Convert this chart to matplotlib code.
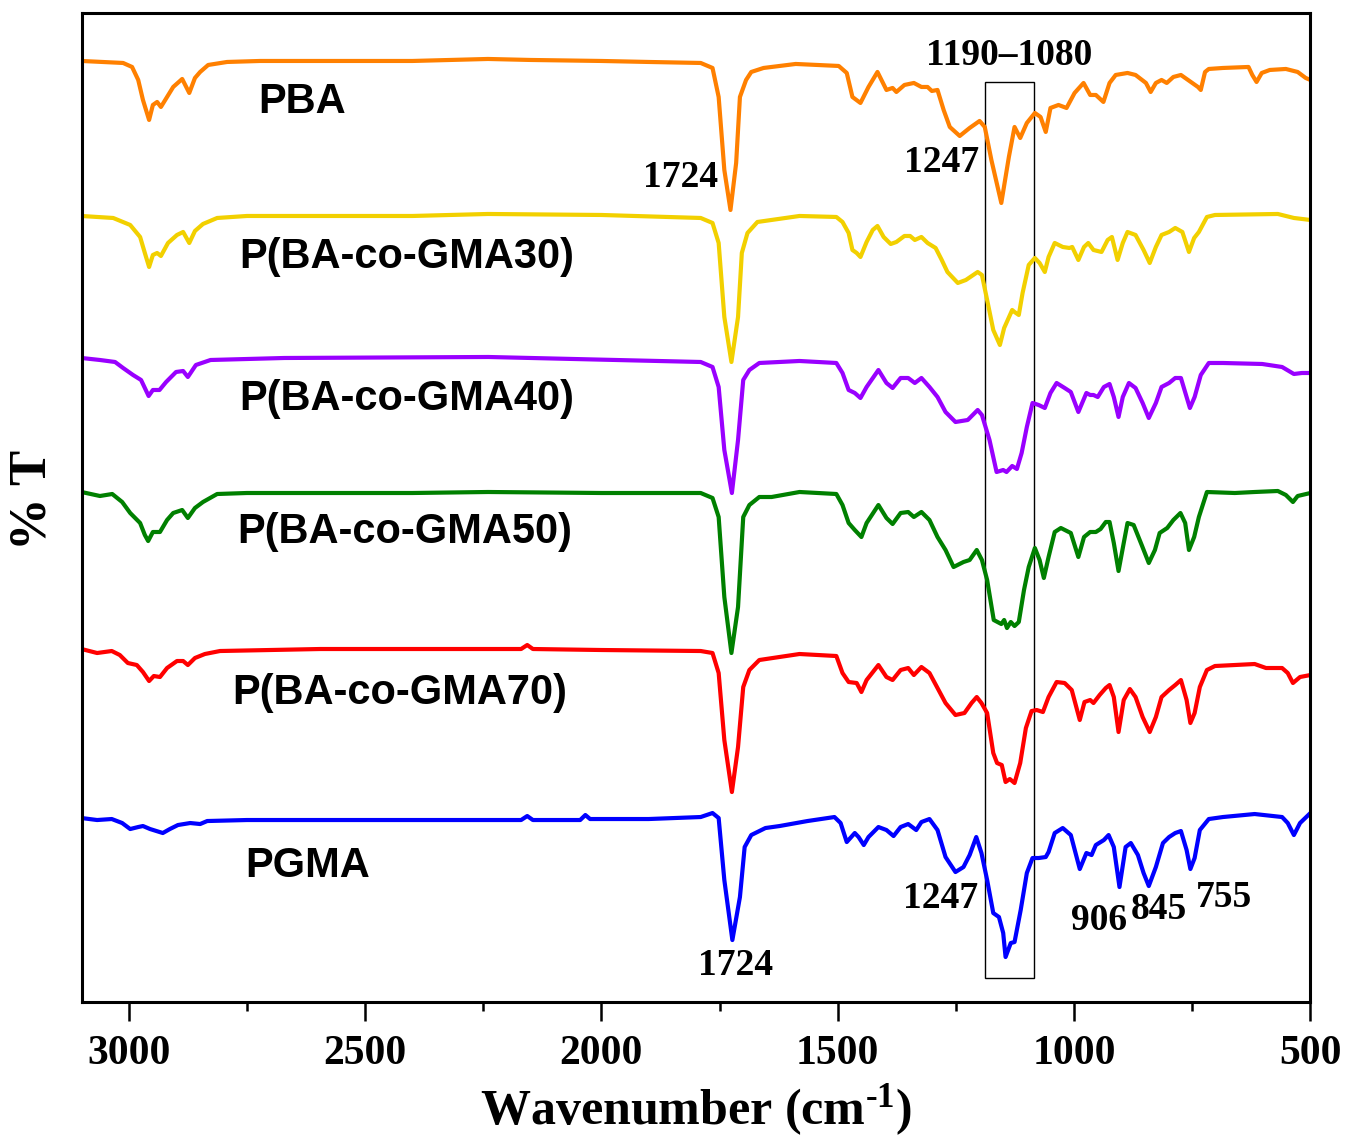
import matplotlib
matplotlib.use("Agg")
import matplotlib.pyplot as plt
from matplotlib.patches import Rectangle
from matplotlib.ticker import MultipleLocator

plt.rcParams["mathtext.fontset"] = "custom"
plt.rcParams["mathtext.rm"] = "Liberation Serif:bold"
plt.rcParams["mathtext.bf"] = "Liberation Serif:bold"
plt.rcParams["mathtext.it"] = "Liberation Serif:bold"

# ---------------- data (wavenumber, %T in arbitrary offset units) ----------------
pba_wn = [3100, 3012, 2993, 2980, 2970, 2957, 2949, 2940, 2932, 2919, 2906, 2887, 2872, 2860, 2849, 2832, 2792, 2722,
          2400, 2240, 2150, 2000, 1900, 1790, 1765, 1752, 1740, 1727, 1715, 1707, 1694, 1683, 1657, 1589, 1498, 1481,
          1469, 1452, 1435, 1416, 1397, 1384, 1376, 1359, 1339, 1323, 1310, 1301, 1289, 1276, 1263, 1242, 1221, 1200,
          1189, 1175, 1154, 1138, 1126, 1114, 1100, 1083, 1071, 1060, 1050, 1033, 1016, 999, 980, 966, 954, 938, 925,
          912, 887, 870, 848, 838, 827, 815, 804, 790, 774, 753, 738, 732, 723, 715, 685, 631, 623, 614, 603, 586, 552,
          527, 510, 500]
pba_t = [941, 939, 935, 922, 902, 882, 897, 900, 895, 905, 915, 923, 909, 924, 930, 937, 940, 941,
         941, 943, 942, 941, 940, 939, 934, 905, 832, 792, 839, 905, 922, 930, 934, 938, 936, 929,
         905, 899, 915, 930, 912, 914, 910, 917, 919, 915, 915, 911, 912, 892, 875, 866, 874, 881,
         875, 842, 799, 845, 875, 864, 879, 889, 885, 870, 894, 897, 894, 909, 919, 907, 907, 900, 919,
         927, 929, 927, 919, 910, 919, 922, 919, 925, 927, 920, 915, 912, 930, 933, 934, 935, 927, 920, 929, 932, 933,
         930, 924, 922]

g30_wn = [3100, 3033, 2997, 2976, 2966, 2957, 2949, 2940, 2932, 2917, 2898, 2885, 2872, 2860, 2843, 2813, 2750,
          2400, 2240, 2000, 1790, 1765, 1752, 1740, 1725, 1711, 1703, 1691, 1670, 1581, 1503, 1490, 1477, 1469, 1460,
          1452, 1439, 1426, 1416, 1403, 1388, 1376, 1359, 1347, 1337, 1323, 1310, 1293, 1280, 1268, 1246, 1229, 1204,
          1195, 1184, 1171, 1157, 1148, 1131, 1126, 1117, 1109, 1096, 1083, 1073, 1062, 1054, 1041, 1024, 1010, 1004,
          991, 979, 970, 959, 942, 929, 920, 908, 897, 887, 870, 853, 840, 827, 815, 799, 786, 771, 757, 746, 736, 719,
          702, 569, 535, 500]
g30_t = [786, 784, 777, 765, 749, 735, 747, 749, 746, 759, 767, 770, 759, 771, 778, 784, 786,
         786, 788, 787, 784, 779, 759, 685, 640, 685, 749, 769, 780, 786, 785, 780, 769, 752, 749,
         745, 760, 772, 776, 765, 758, 760, 766, 766, 762, 765, 759, 754, 742, 730, 719, 722, 730,
         727, 702, 672, 657, 674, 692, 690, 687, 709, 737, 744, 739, 730, 745, 759, 755, 754, 755,
         742, 755, 759, 752, 750, 762, 765, 742, 759, 770, 767, 752, 739, 755, 767, 770, 774, 770, 750, 764, 770, 785,
         787, 788, 784, 782]

g40_wn = [3100, 3061, 3029, 3012, 2991, 2974, 2958, 2949, 2935, 2921, 2900, 2885, 2875, 2858, 2827, 2671, 2239,
          1790, 1765, 1752, 1740, 1724, 1711, 1700, 1687, 1666, 1581, 1503, 1490, 1477, 1464, 1452, 1439, 1414, 1397,
          1384, 1367, 1351, 1337, 1323, 1306, 1289, 1272, 1251, 1225, 1204, 1195, 1179, 1164, 1150, 1143, 1131, 1121,
          1111, 1100, 1088, 1075, 1062, 1050, 1037, 1020, 1007, 991, 974, 966, 959, 950, 937, 925, 916, 906, 897, 884,
          870, 855, 842, 827, 815, 799, 786, 774, 762, 755, 745, 732, 715, 685, 602, 560, 535, 518, 500]
g40_t = [644, 642, 640, 634, 627, 622, 606, 612, 612, 620, 630, 631, 625, 637, 642, 644, 645,
         640, 635, 615, 552, 509, 562, 622, 632, 639, 641, 639, 629, 612, 609, 604, 615, 632, 619,
         614, 624, 624, 619, 624, 615, 605, 590, 580, 582, 592, 587, 562, 530, 532, 530, 536, 533,
         549, 575, 599, 597, 594, 609, 619, 614, 610, 590, 609, 607, 607, 605, 615, 618, 605, 585, 605, 619,
         614, 599, 584, 599, 615, 619, 624, 624, 605, 594, 605, 627, 639, 639, 638, 635, 628, 629, 629]

g50_wn = [3100, 3061, 3035, 3014, 2997, 2976, 2966, 2959, 2949, 2934, 2919, 2906, 2887, 2875, 2860, 2843, 2813, 2750,
          2400, 2240, 2000, 1790, 1765, 1752, 1740, 1725, 1711, 1700, 1687, 1666, 1640, 1581, 1503, 1490, 1477, 1464,
          1450, 1439, 1414, 1397, 1384, 1367, 1351, 1339, 1323, 1306, 1289, 1272, 1255, 1234, 1221, 1206, 1195, 1184,
          1170, 1154, 1148, 1142, 1134, 1126, 1117, 1106, 1096, 1083, 1073, 1064, 1054, 1041, 1028, 1007, 991, 979, 966,
          954, 944, 933, 925, 916, 906, 895, 887, 874, 857, 842, 829, 819, 803, 790, 775, 765, 757, 746, 736, 719, 660,
          618, 569, 552, 537, 527, 500]
g50_t = [510, 506, 508, 500, 489, 479, 467, 461, 470, 470, 482, 489, 492, 484, 494, 500, 508, 509,
         509, 510, 509, 509, 504, 485, 405, 349, 395, 485, 497, 505, 505, 510, 508, 497, 479, 472,
         465, 479, 497, 484, 478, 489, 490, 485, 490, 482, 465, 452, 435, 440, 442, 452, 442, 422,
         382, 378, 382, 374, 380, 376, 380, 412, 435, 454, 442, 424, 445, 470, 474, 469, 445, 465, 470,
         470, 473, 480, 480, 459, 431, 459, 479, 477, 457, 439, 452, 469, 474, 482, 489, 479, 452, 465, 485, 510, 509,
         510, 511, 507, 500, 506, 509]

g70_wn = [3100, 3067, 3036, 3019, 3002, 2983, 2970, 2957, 2947, 2934, 2919, 2898, 2885, 2875, 2860, 2839, 2807, 2595,
          2170, 2157, 2145, 2000, 1790, 1765, 1752, 1740, 1724, 1711, 1700, 1687, 1666, 1581, 1503, 1490, 1477, 1460,
          1450, 1439, 1414, 1397, 1384, 1367, 1351, 1339, 1323, 1306, 1289, 1272, 1251, 1232, 1217, 1206, 1196, 1184,
          1171, 1163, 1153, 1145, 1136, 1126, 1114, 1102, 1090, 1079, 1066, 1054, 1037, 1020, 1005, 988, 978, 966, 959,
          946, 933, 925, 916, 906, 895, 882, 870, 855, 840, 827, 815, 799, 786, 774, 762, 754, 745, 734, 719, 702, 618,
          594, 560, 548, 537, 522, 500]
g70_t = [353, 349, 351, 347, 339, 337, 330, 321, 326, 325, 334, 341, 341, 337, 344, 348, 351, 353,
         353, 357, 353, 352, 351, 349, 329, 262, 210, 255, 315, 332, 342, 348, 346, 329, 320, 319,
         310, 322, 337, 325, 322, 332, 334, 327, 335, 329, 314, 299, 287, 289, 299, 305, 299, 289,
         249, 239, 237, 220, 223, 219, 239, 274, 291, 292, 290, 305, 320, 319, 312, 282, 300, 302, 299,
         307, 314, 317, 305, 270, 302, 313, 305, 285, 270, 285, 305, 312, 317, 322, 302, 279, 289, 315, 332, 336, 338,
         334, 334, 329, 319, 325, 327]

pgma_wn = [3100, 3067, 3036, 3014, 2997, 2980, 2970, 2955, 2928, 2913, 2896, 2870, 2849, 2834, 2750, 2400, 2170,
           2157, 2145, 2045, 2034, 2024, 1900, 1790, 1765, 1752, 1740, 1723, 1707, 1697, 1683, 1653, 1623, 1564, 1507,
           1494, 1481, 1464, 1456, 1445, 1435, 1414, 1397, 1382, 1367, 1351, 1334, 1323, 1306, 1289, 1272, 1251, 1234,
           1221, 1207, 1196, 1184, 1171, 1159, 1150, 1145, 1134, 1126, 1113, 1100, 1088, 1075, 1060, 1054, 1041, 1024,
           1007, 988, 974, 963, 954, 937, 927, 916, 904, 891, 880, 865, 853, 842, 827, 812, 799, 786, 774, 762, 754, 745,
           734, 715, 685, 618, 560, 548, 535, 522, 500]
pgma_t = [184, 182, 183, 179, 173, 175, 176, 173, 169, 173, 177, 179, 178, 181, 182, 182, 182,
          186, 182, 182, 187, 183, 183, 185, 189, 184, 122, 62, 105, 155, 167, 174, 176, 181, 185,
          179, 160, 169, 165, 157, 165, 175, 172, 166, 175, 178, 172, 180, 183, 172, 145, 130, 135,
          147, 165, 149, 122, 89, 85, 69, 45, 59, 60, 92, 129, 144, 144, 145, 150, 169, 174,
          167, 133, 149, 147, 157, 162, 167, 155, 115, 155, 159, 147, 129, 116, 135, 159, 165, 169, 171, 152, 133, 144,
          172, 183, 185, 188, 185, 179, 167, 179, 189]

series_names = ["PBA", "P(BA-co-GMA30)", "P(BA-co-GMA40)", "P(BA-co-GMA50)", "P(BA-co-GMA70)", "PGMA"]
series_colors = ["#FF8000", "#F2D000", "#9900FF", "#008000", "#FF0000", "#0000FF"]
series_x = [pba_wn, g30_wn, g40_wn, g50_wn, g70_wn, pgma_wn]
series_y = [pba_t, g30_t, g40_t, g50_t, g70_t, pgma_t]

# label anchors (left x in cm-1, baseline y)
label_x = [2727, 2767, 2767, 2771, 2781, 2754]
label_y = [889, 734, 592, 459, 298, 125]

# peak annotations: text, x center (cm-1), baseline y
peak_text = ["1724", "1247", "1724", "1247", "906", "845", "755"]
peak_x = [1833, 1280, 1716, 1282, 948, 821, 683]
peak_y = [815, 830, 27, 94, 72, 83, 95]

box_x = [1189, 1085]
box_y = [24, 920]
box_label = "1190\u20131080"

xticks = [3000, 2500, 2000, 1500, 1000, 500]

# ---------------- figure ----------------
fig = plt.figure(figsize=(13.45, 11.37), dpi=100)
ax = fig.add_axes([0.0606, 0.1187, 0.9137, 0.8699])

for xs, ys, c in zip(series_x, series_y, series_colors):
    ax.plot(xs, ys, color=c, lw=3.0, solid_joinstyle="round", solid_capstyle="round")

serif = dict(family="Liberation Serif", weight="bold")
sans = dict(family="Liberation Sans", weight="bold")

for name, lx, ly in zip(series_names, label_x, label_y):
    ax.text(lx, ly, name, ha="left", va="baseline", fontsize=30, **sans)

for t, px, py in zip(peak_text, peak_x, peak_y):
    ax.text(px, py, t, ha="center", va="baseline", fontsize=27, **serif)

ax.add_patch(Rectangle((box_x[0], box_y[0]), box_x[1] - box_x[0], box_y[1] - box_y[0],
                       fill=False, edgecolor="black", lw=1.0))
ax.text((box_x[0] + box_x[1]) / 2, 937, box_label, ha="center", va="baseline", fontsize=27, **serif)

ax.set_xlim(3100, 500)
ax.set_ylim(0, 989)
ax.set_xticks(xticks)
ax.xaxis.set_minor_locator(MultipleLocator(250))
ax.set_yticks([])
for lab in ax.get_xticklabels():
    lab.set_fontfamily("Liberation Serif")
    lab.set_fontweight("bold")
    lab.set_fontsize(30)
ax.tick_params(axis="x", which="major", direction="out", length=13.5, width=1.8, pad=10)
ax.tick_params(axis="x", which="minor", direction="out", length=6.5, width=1.8)
for s in ax.spines.values():
    s.set_linewidth(2.2)

ax.set_xlabel(r"Wavenumber (cm$^{\text{-1}}$)", fontsize=36, fontfamily="Liberation Serif",
              fontweight="bold", va="baseline")
ax.xaxis.set_label_coords(0.5, -0.1235)
ax.set_ylabel("% T", fontsize=38, fontfamily="Liberation Serif", fontweight="bold", va="center")
ax.yaxis.set_label_coords(-0.040, 0.508)

fig.savefig("out.png", dpi=100)
